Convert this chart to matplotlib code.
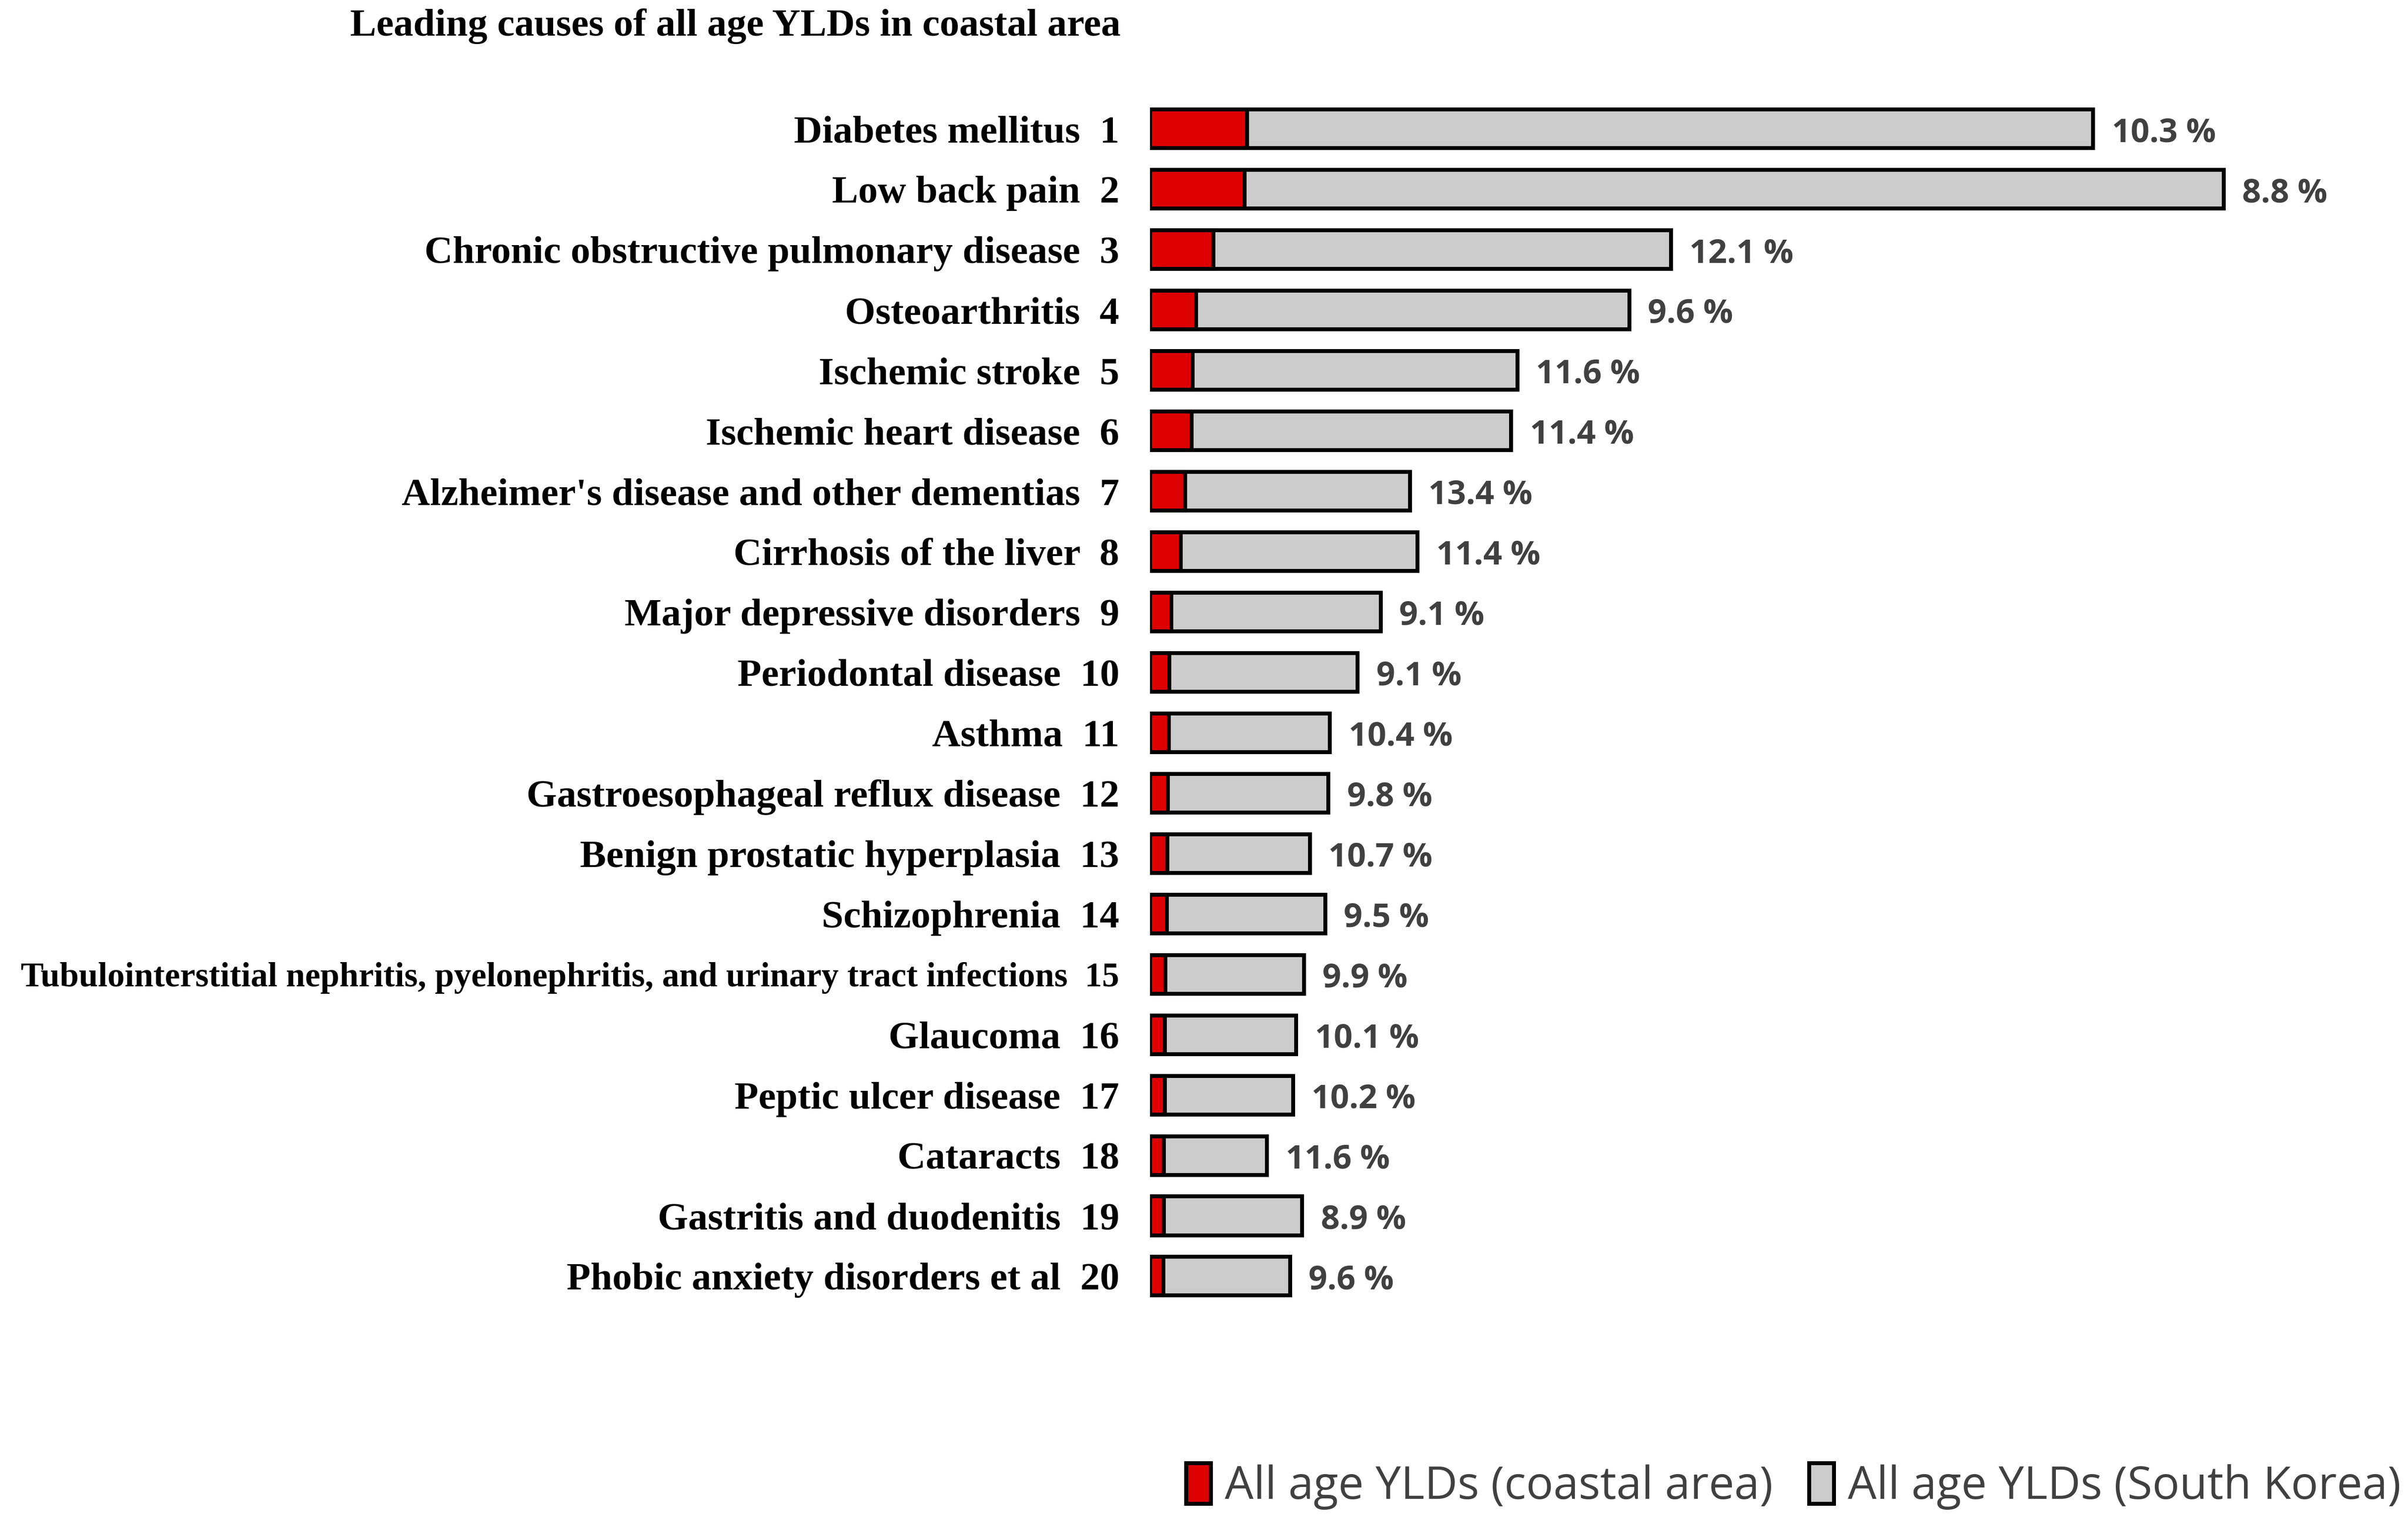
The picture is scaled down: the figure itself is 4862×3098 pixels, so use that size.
import numpy as np
import matplotlib.pyplot as plt
from matplotlib.patches import Patch

causes = [
    "Diabetes mellitus", "Low back pain", "Chronic obstructive pulmonary disease",
    "Osteoarthritis", "Ischemic stroke", "Ischemic heart disease",
    "Alzheimer's disease and other dementias", "Cirrhosis of the liver",
    "Major depressive disorders", "Periodontal disease", "Asthma",
    "Gastroesophageal reflux disease", "Benign prostatic hyperplasia",
    "Schizophrenia",
    "Tubulointerstitial nephritis, pyelonephritis, and urinary tract infections",
    "Glaucoma", "Peptic ulcer disease", "Cataracts", "Gastritis and duodenitis",
    "Phobic anxiety disorders et al",
]
# YLDs, arbitrary units
korea = [614, 699, 339, 312, 239, 235, 169, 174, 150, 135,
         117, 116, 104, 114, 100, 95, 93, 76, 99, 91]
coastal = [63.2, 61.5, 41.0, 30.0, 27.7, 26.8, 22.6, 19.8, 13.7, 12.3,
           12.2, 11.4, 11.1, 10.8, 9.9, 9.6, 9.5, 8.8, 8.8, 8.7]
share = ["10.3", "8.8", "12.1", "9.6", "11.6", "11.4", "13.4", "11.4", "9.1", "9.1",
         "10.4", "9.8", "10.7", "9.5", "9.9", "10.1", "10.2", "11.6", "8.9", "9.6"]

serif = "Liberation Serif"
sans = ["Open Sans", "DejaVu Sans"]

fig = plt.figure(figsize=(4862 / 300, 3098 / 300), dpi=300)
ax = fig.add_axes([749 / 1568, 0.12, 800 / 1568, 0.84])

y = np.arange(len(causes))
ax.barh(y, korea, height=0.64, color="#cccccc", edgecolor="black", lw=1.9)
ax.barh(y, coastal, height=0.64, color="#dd0000", edgecolor="black", lw=1.9)

for yi, v, s in zip(y, korea, share):
    ax.annotate(f"{s} %", (v, yi), xytext=(9, -2), textcoords="offset points",
                ha="left", va="center", fontsize=16, fontweight="bold",
                color="#404040", family=sans)

ax.set_xlim(0, 800)
ax.set_ylim(20.22, -1.118)
ax.set_yticks(y, [f"{c}  {i + 1}" for i, c in enumerate(causes)])
for i, t in enumerate(ax.get_yticklabels()):
    t.set_fontfamily(serif)
    t.set_fontweight("bold")
    # the long label is set smaller so it fits
    t.set_fontsize(16.65 if len(causes[i]) > 60 else 19)
ax.tick_params(axis="y", length=0, pad=15)
ax.set_xticks([])
for sp in ax.spines.values():
    sp.set_visible(False)

fig.text(228 / 1568, 0.983, "Leading causes of all age YLDs in coastal area",
         ha="left", va="center", fontsize=19, fontweight="bold", family=serif)

handles = [Patch(facecolor="#dd0000", edgecolor="black", lw=1.9),
           Patch(facecolor="#cccccc", edgecolor="black", lw=1.9)]
fig.legend(handles, ["All age YLDs (coastal area)", "All age YLDs (South Korea)"],
           loc="center right", bbox_to_anchor=(0.997, 0.031), ncol=2, frameon=False,
           borderaxespad=0, borderpad=0,
           handlelength=0.55, handleheight=1.0, handletextpad=0.3, columnspacing=0.8,
           prop={"family": "Open Sans", "size": 22}, labelcolor="#404040")

fig.savefig("out.png", dpi=300)
